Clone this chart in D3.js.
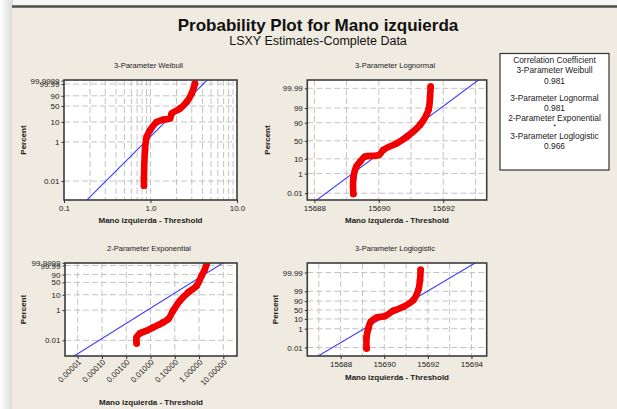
<!DOCTYPE html>
<html><head><meta charset="utf-8">
<script src="https://cdn.jsdelivr.net/npm/d3@7"></script>
<style>
body{margin:0;background:#fff;}
svg{display:block;font-family:"Liberation Sans",Arial,sans-serif;}
</style>
</head><body>
<svg id="chart" width="617" height="409"></svg>
<script>
// ---------------- DATA ----------------
const chartTitle = "Probability Plot for Mano izquierda";
const chartSubtitle = "LSXY Estimates-Complete Data";
const xAxisTitle = "Mano izquierda - Threshold";
const yAxisTitle = "Percent";

// 3-Parameter Weibull: x = value - threshold, percent
const weibullX   = [0.84, 0.84, 0.864, 0.904, 0.987, 1.18, 1.41, 1.68, 1.76, 2.19, 2.62, 2.99, 3.18, 3.27];
const weibullPct = [0.0057, 0.0135, 0.38, 1.8, 3.9, 10, 13, 14.6, 25, 40, 67, 95, 99.85, 99.994];
const weibullFitX   = [0.904, 2.86];
const weibullFitPct = [1.2, 85.8];

// 3-Parameter Lognormal
const lognormX   = [15689.21, 15689.21, 15689.30, 15689.42, 15689.57, 15690.00, 15690.14, 15690.56, 15690.87, 15691.28, 15691.54, 15691.59, 15691.61];
const lognormPct = [0.008, 0.39, 3.3, 6.9, 13, 15.6, 25.7, 43, 61, 87, 98.5, 99.91, 99.994];
const lognormFitX   = [15689.02, 15692];
const lognormFitPct = [0.47, 99.29];

// 2-Parameter Exponential
const expoX   = [0.00268, 0.00268, 0.00367, 0.0069, 0.0129, 0.0207, 0.033, 0.054, 0.085, 0.162, 0.355, 0.794, 1.26, 1.74, 2.14];
const expoPct = [0.0063, 0.0157, 0.0289, 0.043, 0.072, 0.103, 0.155, 0.256, 0.91, 4.1, 13.8, 33.4, 84.4, 99.43, 99.9999];
const expoFitX   = [0.0001, 1.0];
const expoFitPct = [0.0131, 75.1];

// 3-Parameter Loglogistic
const loglogX   = [15689.19, 15689.19, 15689.27, 15689.38, 15689.65, 15690.03, 15690.41, 15690.87, 15691.33, 15691.56, 15691.64, 15691.67];
const loglogPct = [0.0078, 0.135, 1.05, 5.1, 13.7, 17.9, 44.5, 68, 91.8, 99.23, 99.934, 99.995];
const loglogFitX   = [15688, 15692];
const loglogFitPct = [0.0325, 99.07];

// tick values / labels
const weibullXTicks = [0.1, 1, 10];
const weibullXLabels = ["0.1", "1.0", "10.0"];
const weibullXGrid = [0.2,0.3,0.4,0.5,0.6,0.7,0.8,0.9,1,2,3,4,5,6,7,8,9];
const expoXTicks = [0.00001, 0.0001, 0.001, 0.01, 0.1, 1, 10];
const expoXLabels = ["0.00001","0.00010","0.00100","0.01000","0.10000","1.00000","10.00000"];
const lognormXTicks = [15688, 15690, 15692];
const lognormXGrid = [15688, 15689, 15690, 15691, 15692, 15693];
const loglogXTicks = [15688, 15690, 15692, 15694];
const loglogXGrid = [15687, 15688, 15689, 15690, 15691, 15692, 15693, 15694];
const weibullYTicks = [0.01, 1, 10, 50, 90, 99.99, 99.9999];
const weibullYLabels = ["0.01","1","10","50","90","99.99","99.9999"];
const normalYTicks = [0.01, 1, 10, 50, 90, 99, 99.99];
const normalYLabels = ["0.01","1","10","50","90","99","99.99"];

// legend
const legendTitle = "Correlation Coefficient";
const legendNames = ["3-Parameter Weibull", "3-Parameter Lognormal", "2-Parameter Exponential", "3-Parameter Loglogistic"];
const legendValues = ["0.981", "0.981", "*", "0.966"];

// ---------------- helpers ----------------
function qnorm(p){
  const a=[-3.969683028665376e+01,2.209460984245205e+02,-2.759285104469687e+02,1.383577518672690e+02,-3.066479806614716e+01,2.506628277459239e+00];
  const b=[-5.447609879822406e+01,1.615858368580409e+02,-1.556989798598866e+02,6.680131188771972e+01,-1.328068155288572e+01];
  const c=[-7.784894002430293e-03,-3.223964580411365e-01,-2.400758277161838e+00,-2.549732539343734e+00,4.374664141464968e+00,2.938163982698783e+00];
  const d=[7.784695709041462e-03,3.224671290700398e-01,2.445134137142996e+00,3.754408661907416e+00];
  const pl=0.02425, ph=1-pl; let q,r;
  if(p<pl){q=Math.sqrt(-2*Math.log(p));return (((((c[0]*q+c[1])*q+c[2])*q+c[3])*q+c[4])*q+c[5])/((((d[0]*q+d[1])*q+d[2])*q+d[3])*q+1);}
  if(p<=ph){q=p-0.5;r=q*q;return (((((a[0]*r+a[1])*r+a[2])*r+a[3])*r+a[4])*r+a[5])*q/(((((b[0]*r+b[1])*r+b[2])*r+b[3])*r+b[4])*r+1);}
  q=Math.sqrt(-2*Math.log(1-p));return -(((((c[0]*q+c[1])*q+c[2])*q+c[3])*q+c[4])*q+c[5])/((((d[0]*q+d[1])*q+d[2])*q+d[3])*q+1);
}
const tWeib = p => Math.log(-Math.log(1-p));
const tLogit = p => Math.log(p/(1-p));

const svg = d3.select("#chart");
const defs = svg.append("defs");

// ---------------- background ----------------
const grad = defs.append("linearGradient").attr("id","shadow").attr("x1","0").attr("x2","1");
grad.append("stop").attr("offset","0").attr("stop-color","#ffffff");
grad.append("stop").attr("offset","1").attr("stop-color","#d9d9d9");
svg.append("rect").attr("x",0).attr("y",0).attr("width",617).attr("height",409).attr("fill","#f7f7f7");
svg.append("rect").attr("x",0).attr("y",0).attr("width",13).attr("height",409).attr("fill","url(#shadow)");
svg.append("rect").attr("x",12).attr("y",7).attr("width",605).attr("height",402).attr("fill","#efebe0");
svg.append("line").attr("x1",12).attr("x2",617).attr("y1",6.5).attr("y2",6.5).attr("stroke","#4d4d4d").attr("stroke-width",2.5);

svg.append("text").attr("x",318).attr("y",31).attr("text-anchor","middle")
  .attr("font-size",17).attr("font-weight","bold").attr("fill","#111").text(chartTitle);
svg.append("text").attr("x",318).attr("y",44.5).attr("text-anchor","middle")
  .attr("font-size",12.5).attr("fill","#111").text(chartSubtitle);

// ---------------- panels ----------------
const panels = [
  {id:"p1", title:legendNames[0], box:[64,80,237,200], xLog:true, xDomain:[0.1,10],
   xTicks:weibullXTicks, xLabels:weibullXLabels, xGrid:weibullXGrid, tf:tWeib, yDomain:[-11.45,2.7],
   yTicks:weibullYTicks, yLabels:weibullYLabels, X:weibullX, P:weibullPct, FX:weibullFitX, FP:weibullFitPct,
   ylabX:22.7, xTitleDy:22.5, rotate:false},
  {id:"p2", title:legendNames[1], box:[307.3,80,486.7,200], xLog:false, xDomain:[15687.78,15693.35],
   xTicks:lognormXTicks, xLabels:lognormXTicks.map(String), xGrid:lognormXGrid, tf:qnorm, yDomain:[-4.2,4.31],
   yTicks:normalYTicks, yLabels:normalYLabels, X:lognormX, P:lognormPct, FX:lognormFitX, FP:lognormFitPct,
   ylabX:267.3, xTitleDy:23, rotate:false},
  {id:"p3", title:legendNames[2], box:[65,263,237,356], xLog:true, xDomain:[3e-6,36.6],
   xTicks:expoXTicks, xLabels:expoXLabels, xGrid:expoXTicks, tf:tWeib, yDomain:[-11.6,2.6],
   yTicks:weibullYTicks, yLabels:weibullYLabels, X:expoX, P:expoPct, FX:expoFitX, FP:expoFitPct,
   ylabX:22.7, xTitleDy:48.5, rotate:true},
  {id:"p4", title:legendNames[3], box:[307.3,263,486.7,356], xLog:false, xDomain:[15686.47,15694.7],
   xTicks:loglogXTicks, xLabels:loglogXTicks.map(String), xGrid:loglogXGrid, tf:tLogit, yDomain:[-11.3,11.55],
   yTicks:normalYTicks, yLabels:normalYLabels, X:loglogX, P:loglogPct, FX:loglogFitX, FP:loglogFitPct,
   ylabX:275, xTitleDy:23.5, rotate:false}
];

panels.forEach(cfg => {
  const [x0,y0,x1,y1] = cfg.box;
  const xs = (cfg.xLog ? d3.scaleLog() : d3.scaleLinear()).domain(cfg.xDomain).range([x0,x1]);
  const ys = d3.scaleLinear().domain(cfg.yDomain).range([y1,y0]);
  const py = pct => ys(cfg.tf(pct/100));
  const g = svg.append("g");

  defs.append("clipPath").attr("id","clip-"+cfg.id).append("rect")
    .attr("x",x0).attr("y",y0).attr("width",x1-x0).attr("height",y1-y0);

  g.append("rect").attr("x",x0).attr("y",y0).attr("width",x1-x0).attr("height",y1-y0).attr("fill","#ffffff");

  // grid
  const grid = g.append("g").attr("stroke","#c4c4c4").attr("stroke-width",1).attr("stroke-dasharray","6,3");
  cfg.xGrid.forEach(v => grid.append("line").attr("x1",xs(v)).attr("x2",xs(v)).attr("y1",y0).attr("y2",y1));
  cfg.yTicks.forEach(p => grid.append("line").attr("x1",x0).attr("x2",x1).attr("y1",py(p)).attr("y2",py(p)));

  const inner = g.append("g").attr("clip-path","url(#clip-"+cfg.id+")");
  // fitted line
  const X1 = xs(cfg.FX[0]), Y1 = py(cfg.FP[0]), X2 = xs(cfg.FX[1]), Y2 = py(cfg.FP[1]);
  const m = (Y2-Y1)/(X2-X1);
  const ea = x0-300, eb = x1+300;
  inner.append("line").attr("x1",ea).attr("y1",Y1+m*(ea-X1)).attr("x2",eb).attr("y2",Y1+m*(eb-X1))
    .attr("stroke","#3a3aff").attr("stroke-width",1.1);

  // data points
  const pts = cfg.X.map((x,i)=>({x:x, p:cfg.P[i]}));
  inner.append("path").datum(pts)
    .attr("d", d3.line().x(d=>xs(d.x)).y(d=>py(d.p)).curve(d3.curveCatmullRom.alpha(0.5)))
    .attr("fill","none").attr("stroke","#f20000").attr("stroke-width",6.6)
    .attr("stroke-linecap","round").attr("stroke-linejoin","round");
  inner.selectAll("circle").data(pts).enter().append("circle")
    .attr("cx",d=>xs(d.x)).attr("cy",d=>py(d.p)).attr("r",3.3).attr("fill","#f20000");

  // frame
  g.append("rect").attr("x",x0).attr("y",y0).attr("width",x1-x0).attr("height",y1-y0)
    .attr("fill","none").attr("stroke","#3c3c3c").attr("stroke-width",1.6);

  // x axis
  const xa = g.append("g").attr("transform",`translate(0,${y1})`)
    .call(d3.axisBottom(xs).tickValues(cfg.xTicks).tickFormat((d,i)=>cfg.xLabels[i]).tickSize(3).tickPadding(2.5));
  xa.select(".domain").remove();
  xa.selectAll("line").attr("stroke","#333");
  xa.selectAll("text").attr("font-size",8).attr("fill","#222").attr("font-family","Liberation Sans, Arial, sans-serif");
  if (cfg.rotate) {
    xa.selectAll("text").attr("x",0).attr("y",0).attr("dy",0)
      .attr("text-anchor","end").attr("transform","translate(3.5,6.5) rotate(-45)");
  }
  // y axis
  const ya = g.append("g").attr("transform",`translate(${x0},0)`)
    .call(d3.axisLeft(ys).tickValues(cfg.yTicks.map(p=>cfg.tf(p/100))).tickFormat((d,i)=>cfg.yLabels[i]).tickSize(2.5).tickPadding(2));
  ya.select(".domain").remove();
  ya.selectAll("line").attr("stroke","#333");
  ya.selectAll("text").attr("font-size",8).attr("fill","#222").attr("font-family","Liberation Sans, Arial, sans-serif");

  // titles
  g.append("text").attr("x",(x0+x1)/2-2).attr("y",y0-12.5).attr("text-anchor","middle")
    .attr("font-size",7.6).attr("fill","#222").text(cfg.title);
  g.append("text").attr("x",(x0+x1)/2).attr("y",y1+cfg.xTitleDy).attr("text-anchor","middle")
    .attr("font-size",8).attr("font-weight","bold").attr("fill","#222").text(xAxisTitle);
  g.append("text").attr("transform",`translate(${cfg.ylabX+3},${(y0+y1)/2}) rotate(-90)`).attr("text-anchor","middle")
    .attr("font-size",8).attr("font-weight","bold").attr("fill","#222").text(yAxisTitle);
});

// ---------------- legend ----------------
const lg = svg.append("g");
lg.append("rect").attr("x",500).attr("y",53.5).attr("width",109).attr("height",116.5)
  .attr("fill","#ffffff").attr("stroke","#333").attr("stroke-width",1.2);
const lgCx = 554.5;
const lgRows = [legendTitle];
legendNames.forEach((n,i)=>{ lgRows.push(n); lgRows.push(legendValues[i]); });
const lgY = [63, 73, 84, 101, 111, 120.5, 129, 139, 149];
lg.selectAll("text").data(lgRows).enter().append("text")
  .attr("x",lgCx).attr("y",(d,i)=>lgY[i]).attr("text-anchor","middle")
  .attr("font-size",(d)=> d==="*" ? 7 : 8.4).attr("fill","#222").text(d=>d);
</script>
</body></html>
